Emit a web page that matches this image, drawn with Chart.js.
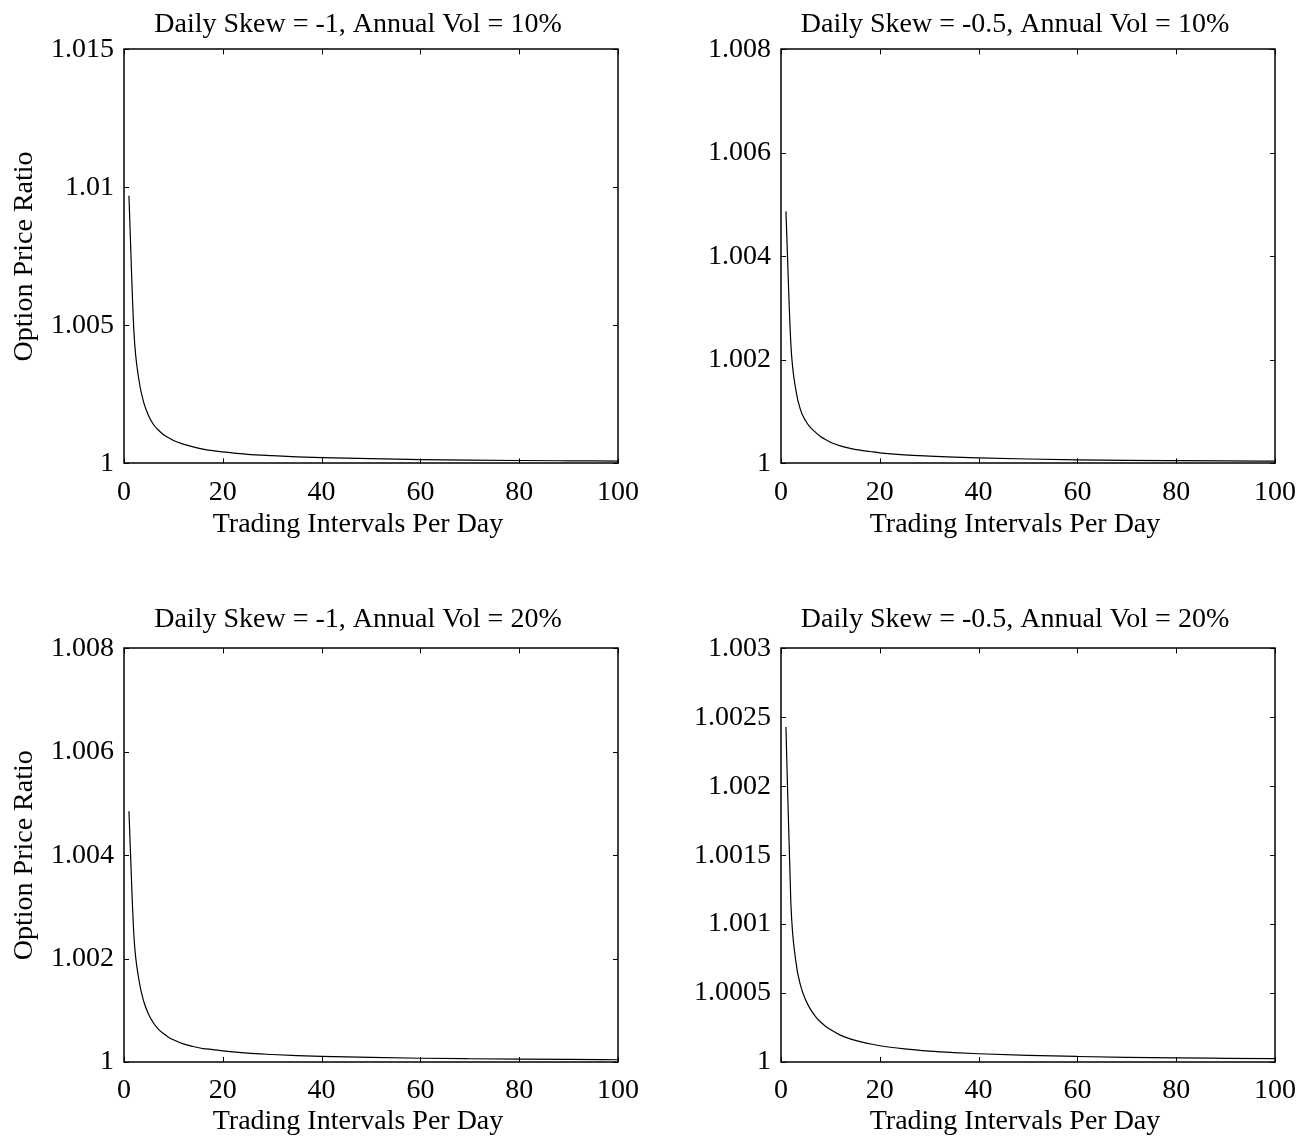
<!DOCTYPE html>
<html>
<head>
<meta charset="utf-8">
<script src="https://cdn.jsdelivr.net/npm/chart.js@4.4.1/dist/chart.umd.min.js"></script>
<style>
  body { margin: 0; background: #fff; overflow: hidden; }
  .panel { position: absolute; width: 716px; }
  .top { top: 0px; height: 560px; }
  .bottom { top: 599px; height: 539px; }
</style>
</head>
<body>
<div class="panel top" style="left:0px"><canvas id="c1"></canvas></div>
<div class="panel top" style="left:657px"><canvas id="c2"></canvas></div>
<div class="panel bottom" style="left:0px"><canvas id="c3"></canvas></div>
<div class="panel bottom" style="left:657px"><canvas id="c4"></canvas></div>
<script>
// trading intervals per day (x values where the curve was read)
const intervals = [1,2,3,4,5,6,7,8,9,10,12,14,16,18,20,25,30,35,40,50,60,70,80,90,100]

// option price ratio
const skew1vol10 = [1.0097,1.0048,1.00305,1.0022,1.00172,1.0014,1.0012,1.00104,1.00093,1.00083,1.0007,1.0006,1.00052,1.00046,1.00042,1.00033,1.00028,1.00024,1.00021,1.00017,1.00014,1.00012,1.000105,1.000095,1.000085]
const skew05vol10 = [1.00487,1.0023,1.00142,1.00102,1.00082,1.00069,1.0006,1.00052,1.00046,1.00041,1.00034,1.00029,1.000255,1.00023,1.000205,1.000165,1.00014,1.00012,1.000105,1.000085,1.00007,1.00006,1.000053,1.000047,1.000043]
const skew1vol20 = [1.00485,1.00245,1.0016,1.00117,1.00092,1.00075,1.00063,1.00055,1.00048,1.00043,1.00035,1.0003,1.00026,1.00024,1.000215,1.00017,1.000145,1.000125,1.00011,1.000088,1.000073,1.000063,1.000055,1.000049,1.000044]
const skew05vol20 = [1.00243,1.00115,1.00073,1.00055,1.00045,1.00038,1.00033,1.00029,1.00026,1.000235,1.000195,1.000168,1.000148,1.000132,1.000118,1.000095,1.000079,1.000068,1.00006,1.000048,1.00004,1.000034,1.00003,1.000027,1.000024]

// tick values and labels
const xTicks = [0,20,40,60,80,100]
const yTicksA = [1,1.005,1.01,1.015]
const yLabelsA = ['1','1.005','1.01','1.015']
const yTicksB = [1,1.002,1.004,1.006,1.008]
const yLabelsB = ['1','1.002','1.004','1.006','1.008']
const yTicksC = [1,1.0005,1.001,1.0015,1.002,1.0025,1.003]
const yLabelsC = ['1','1.0005','1.001','1.0015','1.002','1.0025','1.003']

const titles = ['Daily Skew = -1, Annual Vol = 10%','Daily Skew = -0.5, Annual Vol = 10%','Daily Skew = -1, Annual Vol = 20%','Daily Skew = -0.5, Annual Vol = 20%']

Chart.defaults.font.family = "'Liberation Serif', 'Times New Roman', serif"
Chart.defaults.font.size = 28
Chart.defaults.color = '#000'

// spacing for the two rows of panels
const topRow = { titleTop: 7.4, titleBottom: 8.4, tickPad: 12.5, xHeight: 44.6, subBottom: 18.4 }
const bottomRow = { titleTop: 3.4, titleBottom: 12.4, tickPad: 11.5, xHeight: 42.4, subBottom: 0 }

// box round the plot with ticks pointing inward, matlab style
const framePlugin = {
  id: 'frame',
  afterDatasetsDraw(chart) {
    const ctx = chart.ctx
    const a = chart.chartArea
    const sx = chart.scales.x, sy = chart.scales.y
    const len = 5
    ctx.save()
    ctx.strokeStyle = '#000'
    ctx.lineWidth = 1
    ctx.beginPath()
    sx.ticks.forEach(t => {
      const px = Math.round(sx.getPixelForValue(t.value)) + 0.5
      ctx.moveTo(px, a.bottom); ctx.lineTo(px, a.bottom - len)
      ctx.moveTo(px, a.top); ctx.lineTo(px, a.top + len)
    })
    sy.ticks.forEach(t => {
      const py = Math.round(sy.getPixelForValue(t.value)) + 0.5
      ctx.moveTo(a.left, py); ctx.lineTo(a.left + len, py)
      ctx.moveTo(a.right, py); ctx.lineTo(a.right - len, py)
    })
    ctx.stroke()
    ctx.lineWidth = 1.5
    ctx.strokeRect(Math.round(a.left), Math.round(a.top), Math.round(a.right - a.left), Math.round(a.bottom - a.top))
    ctx.restore()
  }
}

let plotPanel = (id, title, values, yTicks, yLabels, showYTitle, row) => {
  const points = intervals.map((x, i) => ({x: x, y: values[i]}))
  return new Chart(id, {
    type: 'line',
    data: {
      datasets: [{
        data: points,
        borderColor: '#000',
        borderWidth: 1.2,
        pointRadius: 0,
        cubicInterpolationMode: 'monotone',
        fill: false
      }]
    },
    options: {
      responsive: true,
      maintainAspectRatio: false,
      animation: false,
      layout: { padding: 0 },
      plugins: {
        legend: { display: false },
        tooltip: { enabled: false },
        title: {
          display: true,
          text: title,
          font: { size: 28, weight: 'normal' },
          padding: { top: row.titleTop, bottom: row.titleBottom }
        },
        subtitle: {
          display: true,
          position: 'bottom',
          text: 'Trading Intervals Per Day',
          font: { size: 28, weight: 'normal' },
          padding: { top: 0, bottom: row.subBottom }
        }
      },
      scales: {
        x: {
          type: 'linear',
          min: 0,
          max: 100,
          afterBuildTicks: s => { s.ticks = xTicks.map(v => ({value: v})) },
          afterFit: s => { s.height = row.xHeight },
          grid: { display: false, drawTicks: false },
          border: { display: false },
          ticks: { padding: row.tickPad, maxRotation: 0 }
        },
        y: {
          min: yTicks[0],
          max: yTicks[yTicks.length - 1],
          afterBuildTicks: s => { s.ticks = yTicks.map(v => ({value: v})) },
          afterFit: s => { s.width = 124 },
          grid: { display: false, drawTicks: false },
          border: { display: false },
          ticks: {
            padding: 10,
            callback: (v, i) => yLabels[i]
          },
          title: {
            display: showYTitle,
            text: 'Option Price Ratio',
            font: { size: 28 },
            padding: { top: 7.4, bottom: 0 }
          }
        },
        yRight: {
          position: 'right',
          afterFit: s => { s.width = 98 },
          grid: { display: false, drawTicks: false },
          border: { display: false },
          ticks: { display: false }
        }
      }
    },
    plugins: [framePlugin]
  })
}

plotPanel('c1', titles[0], skew1vol10, yTicksA, yLabelsA, true, topRow)
plotPanel('c2', titles[1], skew05vol10, yTicksB, yLabelsB, false, topRow)
plotPanel('c3', titles[2], skew1vol20, yTicksB, yLabelsB, true, bottomRow)
plotPanel('c4', titles[3], skew05vol20, yTicksC, yLabelsC, false, bottomRow)
</script>
</body>
</html>
